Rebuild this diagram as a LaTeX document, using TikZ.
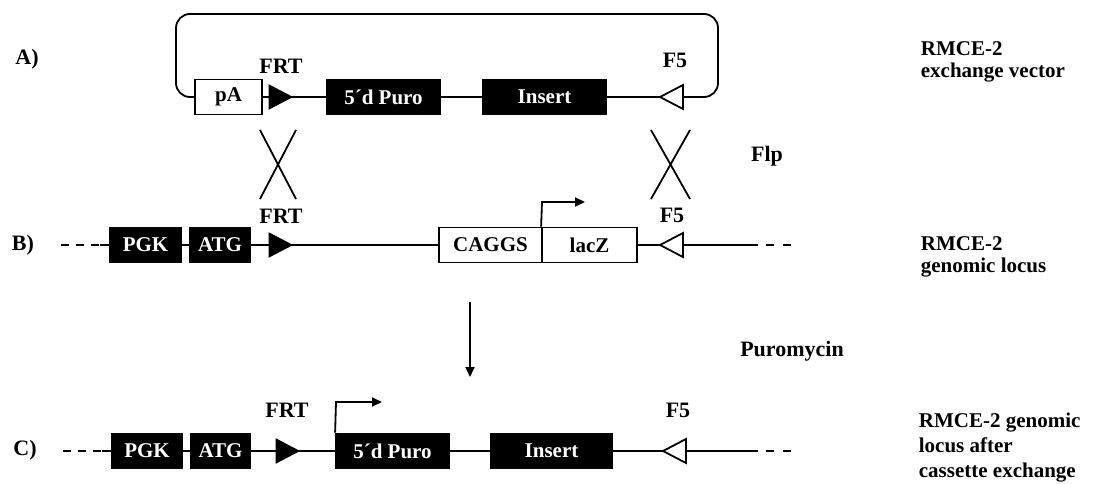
\documentclass[tikz,border=0pt]{standalone}
\usepackage{fontspec}
\setmainfont{Liberation Serif}
\usetikzlibrary{arrows.meta}
\begin{document}
\begin{tikzpicture}[x=1pt,y=-1pt,line width=1.8pt,
  boxtext/.style={font=\bfseries\fontsize{21}{23}\selectfont},
  blackbox/.style={draw=black,fill=black,text=white,boxtext,inner sep=0pt,minimum height=35pt},
  whitebox/.style={draw=black,fill=white,text=black,boxtext,inner sep=0pt,minimum height=35pt},
  lbl/.style={font=\bfseries\fontsize{22}{24}\selectfont,inner sep=0pt},
  sidetext/.style={font=\bfseries\fontsize{21}{23}\selectfont,inner sep=0pt,anchor=base west},
  frtsite/.style={fill=black,draw=black,line width=1pt,line join=miter},
  ffivesite/.style={fill=white,draw=black,line width=1.8pt,line join=miter},
  tip/.style={-{Triangle[length=10pt,width=9pt]}},
  leftdash/.style={dash pattern=on 8pt off 7pt},
  rightdash/.style={dash pattern=on 8pt off 9pt},
]
\useasboundingbox (0,0) rectangle (1095,484);

% ---------------- Row A: exchange vector ----------------
\node[lbl] (labA) at (27,59) {A)};
\node[whitebox,minimum width=67pt] (pA) at (228.5,97) {pA};
\node[blackbox,minimum width=113pt] (puroA) at (383.5,97) {5´d Puro};
\node[blackbox,minimum width=123pt] (insA) at (544.5,97) {Insert};
\coordinate (loopL) at (176,97);
\coordinate (loopTL) at (176,14);
\coordinate (loopTR) at (718,14);
\coordinate (loopR) at (718,97);
\draw[rounded corners=14pt] (pA.west) -- (loopL) -- (loopTL) -- (loopTR) -- (loopR) -- (insA.east);
\draw (pA.east) -- (puroA.west);
\draw (puroA.east) -- (insA.west);
\coordinate (frtA) at (269,97);
\filldraw[frtsite] (frtA) ++(0,-12) -- ++(23,12) -- ++(-23,12) -- cycle;
\coordinate (f5A) at (660,97);
\filldraw[ffivesite] (f5A) -- ++(23,-12) -- ++(0,24) -- cycle;
\node[lbl] (frtlA) at (281,66) {FRT};
\node[lbl] (f5lA) at (675,60) {F5};
\node[sidetext] (rA1) at (920,56) {RMCE-2};
\node[sidetext] (rA2) at (920,78) {exchange vector};

% ---------------- crossovers ----------------
\coordinate (xa1) at (260,130); \coordinate (xa2) at (296,199);
\coordinate (xa3) at (296,130); \coordinate (xa4) at (260,199);
\draw (xa1) -- (xa2); \draw (xa3) -- (xa4);
\coordinate (xb1) at (651,130); \coordinate (xb2) at (690,199);
\coordinate (xb3) at (690,130); \coordinate (xb4) at (651,199);
\draw (xb1) -- (xb2); \draw (xb3) -- (xb4);
\node[lbl] (flp) at (767,156) {Flp};

% ---------------- Row B: genomic locus ----------------
\node[lbl] (labB) at (23,245) {B)};
\node[blackbox,minimum width=71pt] (pgkB) at (145.5,245) {PGK};
\node[blackbox,minimum width=60pt] (atgB) at (220,245) {ATG};
\node[whitebox,minimum width=103pt] (caggs) at (490.5,245) {CAGGS};
\node[whitebox,minimum width=95pt] (lacz) at (589.5,245) {lacZ};
\coordinate (dBl) at (61,245);
\coordinate (sBl) at (100,245);
\draw[leftdash] (dBl) -- (sBl);
\draw (sBl) -- (pgkB.west);
\draw (pgkB.east) -- (atgB.west);
\draw (atgB.east) -- (caggs.west);
\coordinate (eBr) at (758,245);
\coordinate (dBr1) at (766,245);
\coordinate (dBr2) at (793,245);
\draw (lacz.east) -- (eBr);
\draw[rightdash] (dBr1) -- (dBr2);
\coordinate (frtB) at (269,245);
\filldraw[frtsite] (frtB) ++(0,-12) -- ++(23,12) -- ++(-23,12) -- cycle;
\coordinate (f5B) at (660,245);
\filldraw[ffivesite] (f5B) -- ++(23,-12) -- ++(0,24) -- cycle;
\coordinate (promB) at (542,202);
\coordinate (promBend) at (585,202);
\draw[tip] (lacz.north west) -- (promB) -- (promBend);
\node[lbl] (frtlB) at (281,216) {FRT};
\node[lbl] (f5lB) at (672,215) {F5};
\node[sidetext] (rB1) at (920,250) {RMCE-2};
\node[sidetext] (rB2) at (920,272) {genomic locus};

% ---------------- selection ----------------
\coordinate (downtop) at (470,302);
\coordinate (downbot) at (470,377);
\draw[tip] (downtop) -- (downbot);
\node[lbl] (puro) at (792,351) {Puromycin};

% ---------------- Row C: after exchange ----------------
\node[lbl] (labC) at (25,450) {C)};
\node[blackbox,minimum width=70pt] (pgkC) at (147,451) {PGK};
\node[blackbox,minimum width=59pt] (atgC) at (220.5,451) {ATG};
\node[blackbox,minimum width=113pt] (puroC) at (392.5,451) {5´d Puro};
\node[blackbox,minimum width=121pt] (insC) at (551.5,451) {Insert};
\coordinate (dCl) at (63,451);
\coordinate (sCl) at (102,451);
\draw[leftdash] (dCl) -- (sCl);
\draw (sCl) -- (pgkC.west);
\draw (pgkC.east) -- (atgC.west);
\draw (atgC.east) -- (puroC.west);
\draw (puroC.east) -- (insC.west);
\coordinate (eCr) at (758,451);
\coordinate (dCr1) at (766,451);
\coordinate (dCr2) at (793,451);
\draw (insC.east) -- (eCr);
\draw[rightdash] (dCr1) -- (dCr2);
\coordinate (frtC) at (276,451);
\filldraw[frtsite] (frtC) ++(0,-12) -- ++(23,12) -- ++(-23,12) -- cycle;
\coordinate (f5C) at (663,451);
\filldraw[ffivesite] (f5C) -- ++(23,-12) -- ++(0,24) -- cycle;
\coordinate (promC) at (336,402);
\coordinate (promCend) at (382,402);
\draw[tip] (puroC.north west) -- (promC) -- (promCend);
\node[lbl] (frtlC) at (287,410) {FRT};
\node[lbl] (f5lC) at (678,410) {F5};
\node[sidetext] (rC1) at (918,427) {RMCE-2 genomic};
\node[sidetext] (rC2) at (918,452) {locus after};
\node[sidetext] (rC3) at (918,477) {cassette exchange};
\end{tikzpicture}
\end{document}
